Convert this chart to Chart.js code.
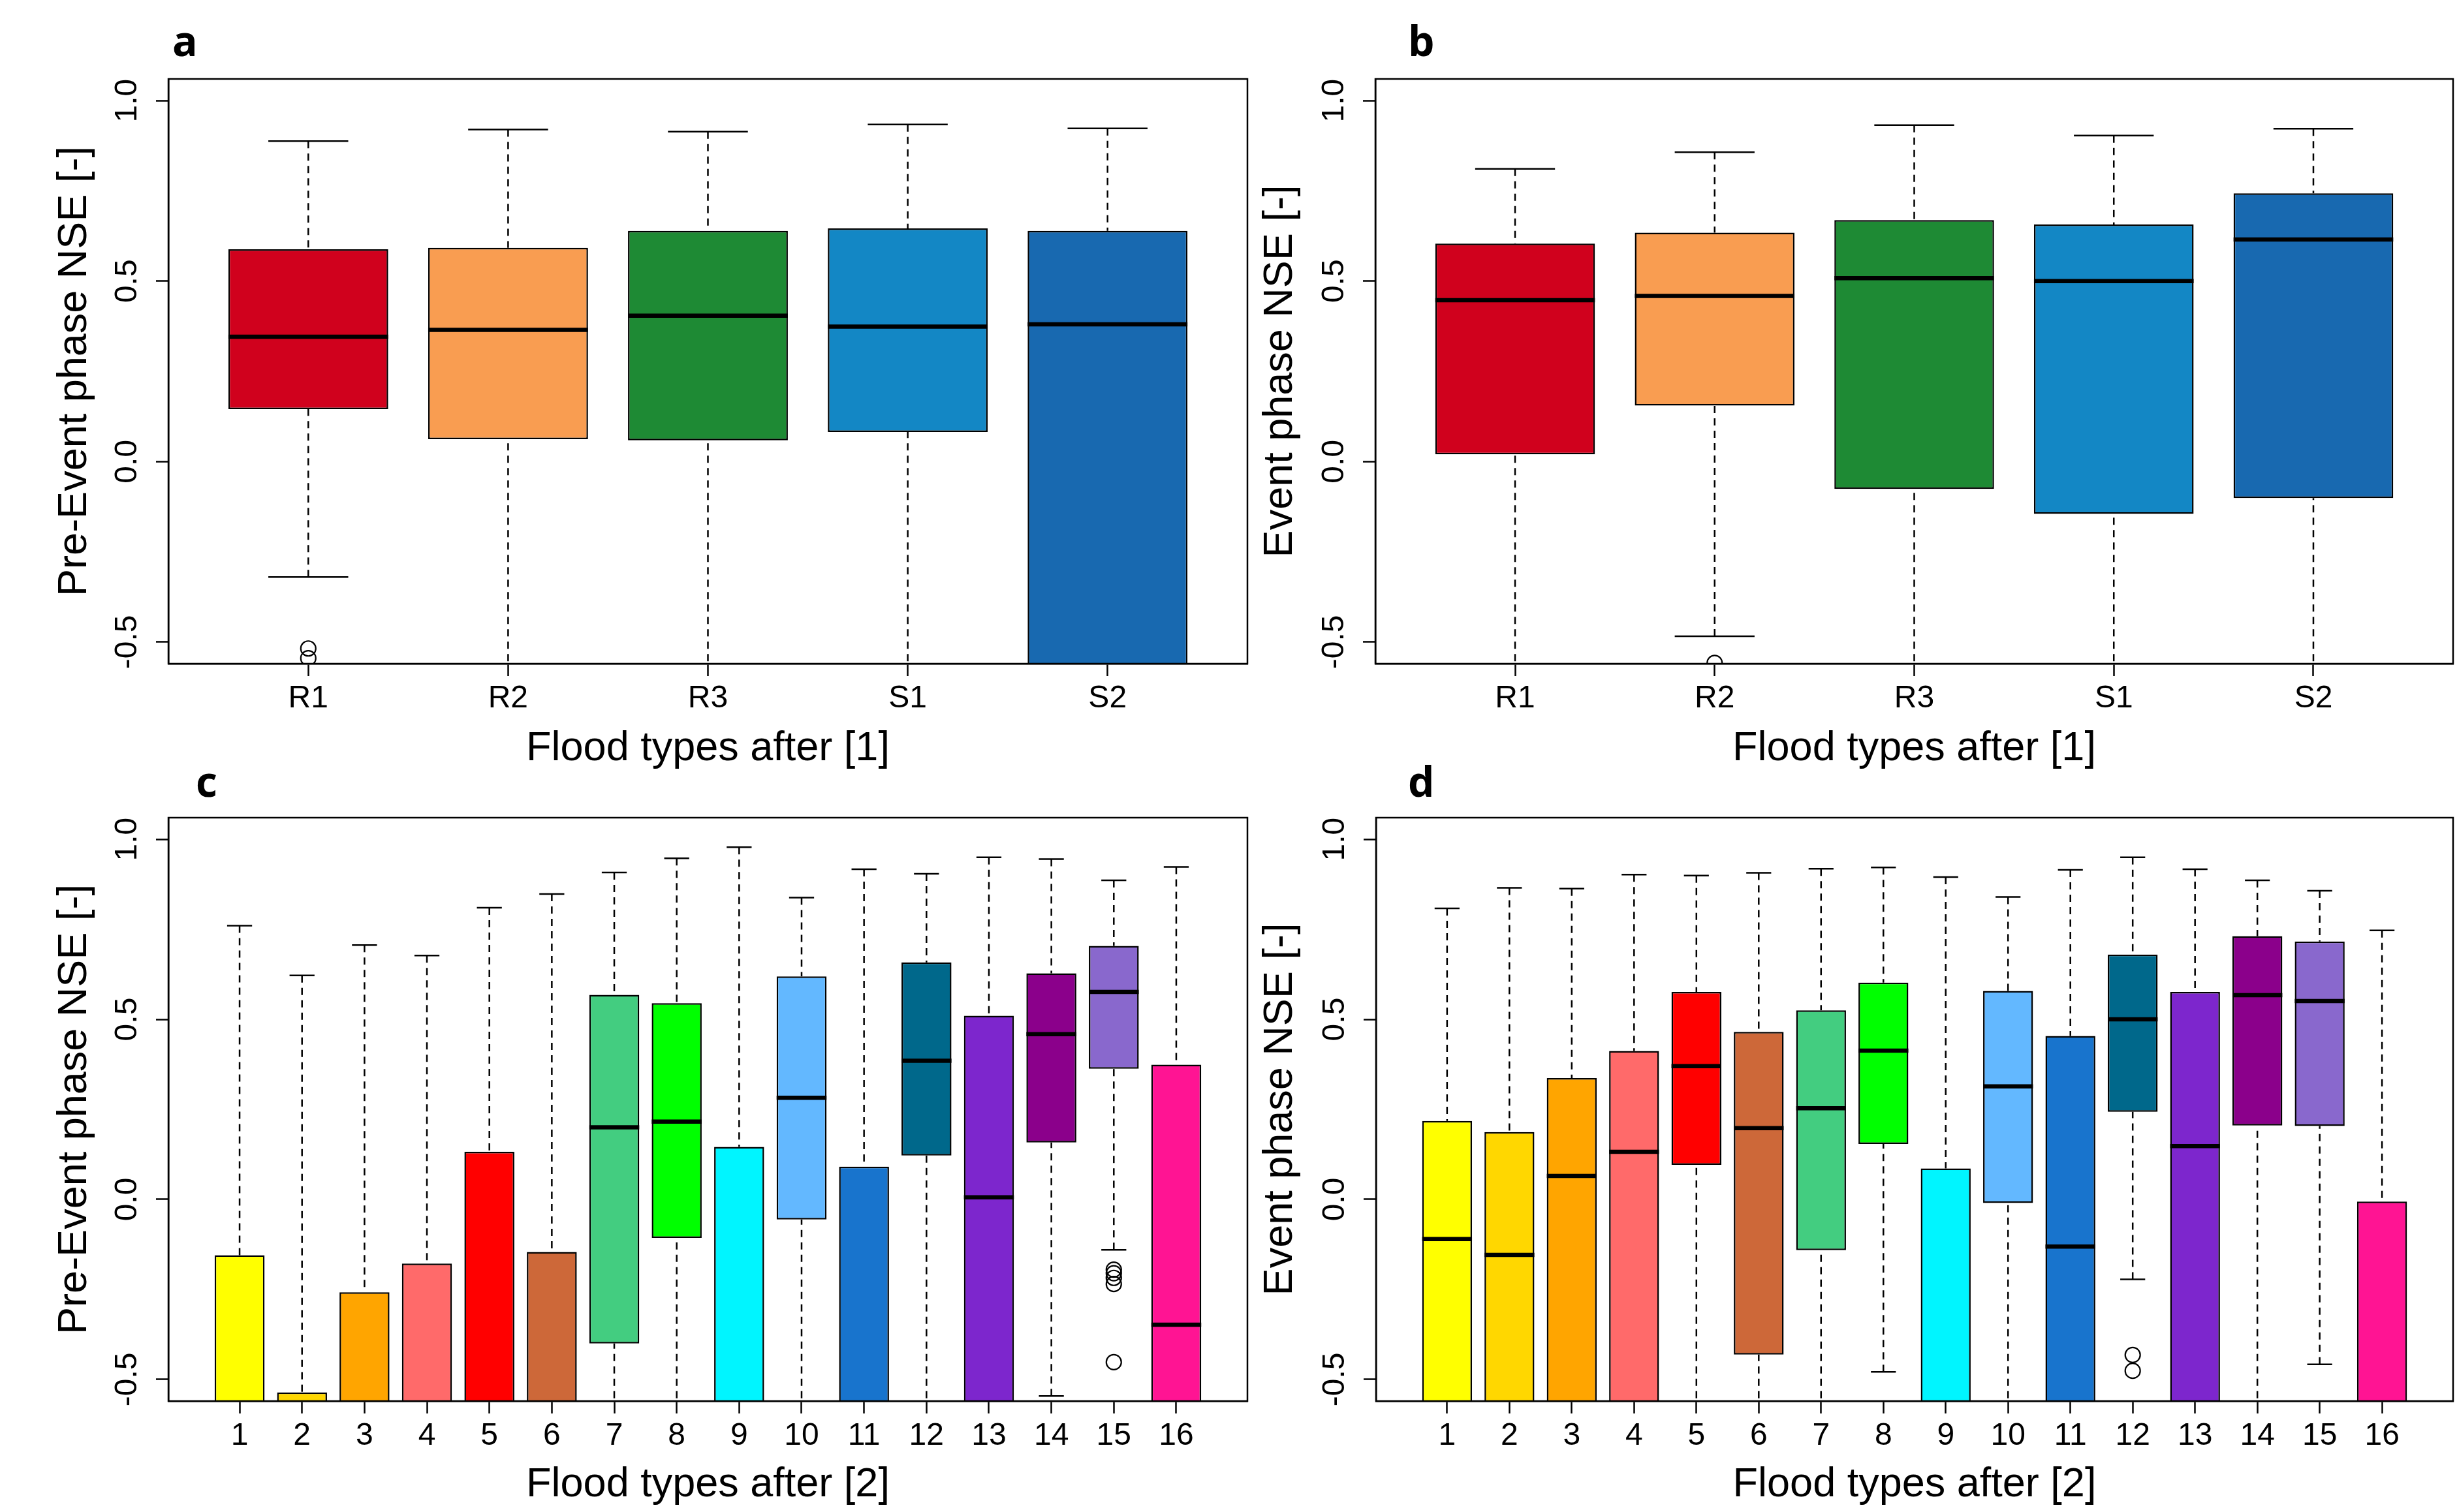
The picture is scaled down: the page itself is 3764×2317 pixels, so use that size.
<!DOCTYPE html>
<html>
<head>
<meta charset="utf-8">
<title>NSE by flood type</title>
<script src="https://cdn.jsdelivr.net/npm/chart.js@4.4.1/dist/chart.umd.min.js"></script>
<style>
  html, body { margin: 0; padding: 0; background: #fff; }
  body { position: relative; width: 3764px; height: 2317px; overflow: hidden; }
  canvas { position: absolute; }
  .tag { position: absolute; font: 700 64px/64px 'Open Sans', sans-serif; color: #000; }
</style>
</head>
<body>
<div class="tag" style="left:264px; top:30px">a</div>
<div class="tag" style="left:2157px; top:30px">b</div>
<div class="tag" style="left:300px; top:1165px">c</div>
<div class="tag" style="left:2157px; top:1165px">d</div>
<canvas id="chartA" width="1930" height="1190" style="left:0; top:0"></canvas>
<canvas id="chartB" width="1884" height="1190" style="left:1880px; top:0"></canvas>
<canvas id="chartC" width="1930" height="1127" style="left:0; top:1190px"></canvas>
<canvas id="chartD" width="1884" height="1127" style="left:1880px; top:1190px"></canvas>
<script>
// flood types
const typesOne = ['R1', 'R2', 'R3', 'S1', 'S2'];
const typesTwo = ['1', '2', '3', '4', '5', '6', '7', '8', '9', '10', '11', '12', '13', '14', '15', '16'];
const yTicks = [-0.5, 0, 0.5, 1.0];
const yMin = -0.56;
const yMax = 1.06;

const colorsOne = ['#D0011D', '#F99D51', '#1E8A34', '#1387C5', '#1869B0'];
const colorsTwo = ['#FFFF00', '#FFD700', '#FFA500', '#FF6A6A', '#FF0000', '#CD6839', '#43CD80', '#00FF00',
                   '#00F5FF', '#63B8FF', '#1874CD', '#00688B', '#7D26CD', '#8B008B', '#8968CD', '#FF1493'];

// -1 = value lies below the plotted range (cut off at the bottom of the panel)

// a: pre-event phase, types after [1]
const aLow  = [-0.320, -1, -1, -1, -1];
const aQ1   = [0.145, 0.062, 0.059, 0.082, -1];
const aMed  = [0.346, 0.365, 0.404, 0.374, 0.380];
const aQ3   = [0.588, 0.592, 0.639, 0.646, 0.639];
const aHigh = [0.888, 0.920, 0.914, 0.934, 0.923];
const aOut  = [[-0.518, -0.545], [], [], [], []];

// b: event phase, types after [1]
const bLow  = [-1, -0.484, -1, -1, -1];
const bQ1   = [0.020, 0.155, -0.076, -0.145, -0.101];
const bMed  = [0.447, 0.459, 0.508, 0.500, 0.615];
const bQ3   = [0.604, 0.634, 0.669, 0.657, 0.743];
const bHigh = [0.811, 0.857, 0.932, 0.903, 0.922];
const bOut  = [[], [-0.558], [], [], []];

// c: pre-event phase, types after [2]
const cLow  = [-1, -1, -1, -1, -1, -1, -1, -1, -1, -1, -1, -1, -1, -0.546, -0.140, -1];
const cQ1   = [-1, -1, -1, -1, -1, -1, -0.400, -0.107, -1, -0.056, -1, 0.122, -1, 0.158, 0.363, -1];
const cMed  = [-1, -1, -1, -1, -1, -1, 0.200, 0.216, -1, 0.282, -1, 0.385, 0.006, 0.459, 0.576, -0.348];
const cQ3   = [-0.155, -0.536, -0.258, -0.178, 0.132, -0.146, 0.568, 0.545, 0.146, 0.619, 0.091, 0.658, 0.510, 0.628, 0.704, 0.374];
const cHigh = [0.760, 0.622, 0.706, 0.677, 0.810, 0.848, 0.908, 0.947, 0.978, 0.838, 0.917, 0.904, 0.950, 0.945, 0.886, 0.923];
const cOut  = [[], [], [], [], [], [], [], [], [], [], [], [], [], [], [-0.195, -0.205, -0.218, -0.235, -0.452], []];

// d: event phase, types after [2]
const dLow  = [-1, -1, -1, -1, -1, -1, -1, -0.479, -1, -1, -1, -0.222, -1, -1, -0.458, -1];
const dQ1   = [-1, -1, -1, -1, 0.096, -0.431, -0.141, 0.154, -1, -0.010, -1, 0.243, -1, 0.205, 0.204, -1];
const dMed  = [-0.110, -0.154, 0.065, 0.132, 0.370, 0.198, 0.253, 0.413, -1, 0.314, -0.131, 0.500, 0.148, 0.567, 0.551, -1];
const dQ3   = [0.218, 0.187, 0.337, 0.412, 0.576, 0.465, 0.525, 0.602, 0.086, 0.579, 0.454, 0.680, 0.576, 0.731, 0.716, -0.006];
const dHigh = [0.808, 0.865, 0.863, 0.902, 0.899, 0.907, 0.918, 0.922, 0.895, 0.840, 0.915, 0.950, 0.917, 0.886, 0.857, 0.747];
const dOut  = [[], [], [], [], [], [], [], [], [], [], [], [-0.432, -0.476], [], [], [], []];

Chart.defaults.font.family = "'Liberation Sans', Arial, sans-serif";
Chart.defaults.color = '#000';

// whiskers, staples, medians, outliers and the frame, all placed through the chart scales
const boxParts = {
  id: 'boxParts',
  beforeDatasetsDraw(chart) {
    const { ctx, chartArea: a, scales: { x, y } } = chart;
    const st = chart.data.datasets[0].stats;
    const staple = (x.getPixelForValue(2) - x.getPixelForValue(1)) * 0.2;
    ctx.save();
    ctx.beginPath();
    ctx.rect(a.left, a.top, a.width, a.height);
    ctx.clip();
    ctx.strokeStyle = '#000';
    ctx.lineWidth = 2.5;
    st.high.forEach((hi, i) => {
      const px = x.getPixelForValue(i + 1);
      [[hi, st.q3[i]], [st.low[i], st.q1[i]]].forEach(([end, edge]) => {
        const ye = y.getPixelForValue(end);
        ctx.setLineDash([11, 8]);
        ctx.beginPath();
        ctx.moveTo(px, ye);
        ctx.lineTo(px, y.getPixelForValue(edge));
        ctx.stroke();
        ctx.setLineDash([]);
        ctx.beginPath();
        ctx.moveTo(px - staple, ye);
        ctx.lineTo(px + staple, ye);
        ctx.stroke();
      });
    });
    ctx.restore();
  },
  afterDatasetsDraw(chart) {
    const { ctx, chartArea: a, scales: { x, y } } = chart;
    const st = chart.data.datasets[0].stats;
    const half = (x.getPixelForValue(2) - x.getPixelForValue(1)) * 0.4;
    ctx.save();
    ctx.beginPath();
    ctx.rect(a.left, a.top, a.width, a.height);
    ctx.clip();
    ctx.strokeStyle = '#000';
    st.med.forEach((m, i) => {
      const px = x.getPixelForValue(i + 1);
      const py = y.getPixelForValue(m);
      ctx.lineWidth = 6.5;
      ctx.beginPath();
      ctx.moveTo(px - half, py);
      ctx.lineTo(px + half, py);
      ctx.stroke();
      ctx.lineWidth = 2.2;
      st.out[i].forEach(v => {
        ctx.beginPath();
        ctx.arc(px, y.getPixelForValue(v), 11.5, 0, Math.PI * 2);
        ctx.stroke();
      });
    });
    ctx.restore();
  },
  afterDraw(chart) {
    const { ctx, chartArea: a } = chart;
    ctx.save();
    ctx.strokeStyle = '#000';
    ctx.lineWidth = 2.5;
    ctx.strokeRect(a.left, a.top, a.width, a.height);
    ctx.restore();
  }
};

function makePanel(canvasId, cats, colors, st, xTitle, yTitle, box) {
  const n = cats.length;
  const pad = n * 0.04; // R widens the axis range by 4%
  return new Chart(document.getElementById(canvasId), {
    type: 'bar',
    data: {
      datasets: [{
        data: cats.map((c, i) => ({ x: i + 1, y: [st.q1[i], st.q3[i]] })),
        backgroundColor: colors,
        borderColor: '#000',
        borderWidth: 2.5,
        borderSkipped: false,
        barPercentage: 0.8,
        categoryPercentage: 1,
        clip: 0,
        stats: st
      }]
    },
    options: {
      responsive: false,
      animation: false,
      layout: { padding: { left: 0, top: box.top, right: box.right, bottom: 0 } },
      plugins: { legend: { display: false }, tooltip: { enabled: false } },
      scales: {
        x: {
          type: 'linear',
          offset: false,
          min: 0.5 - pad,
          max: n + 0.5 + pad,
          afterBuildTicks: s => { s.ticks = cats.map((c, i) => ({ value: i + 1 })); },
          afterFit: s => { s.height = box.xh; },
          ticks: {
            callback: v => cats[v - 1],
            autoSkip: false,
            maxRotation: 0,
            padding: 11,
            font: { size: 48, lineHeight: 1 }
          },
          grid: { display: true, offset: false, drawOnChartArea: false, tickLength: 19, tickWidth: 2.5, tickColor: '#000' },
          border: { display: true, color: '#000', width: 2.5 },
          title: { display: true, text: xTitle, font: { size: 63, lineHeight: 1 }, padding: { top: 0, bottom: box.xtp } }
        },
        y: {
          min: yMin,
          max: yMax,
          afterBuildTicks: s => { s.ticks = yTicks.map(v => ({ value: v })); },
          afterFit: s => { s.width = box.yw; },
          ticks: {
            callback: v => v.toFixed(1),
            autoSkip: false,
            minRotation: 90,
            maxRotation: 90,
            crossAlign: 'center',
            padding: 2,
            font: { size: 48, lineHeight: 1 }
          },
          grid: { display: true, drawOnChartArea: false, tickLength: 19, tickWidth: 2.5, tickColor: '#000' },
          border: { display: true, color: '#000', width: 2.5 },
          title: { display: true, text: yTitle, font: { size: 63, lineHeight: 1 }, padding: { top: box.ytp, bottom: 0 } }
        }
      }
    },
    plugins: [boxParts]
  });
}

makePanel('chartA', typesOne, colorsOne,
  { low: aLow, q1: aQ1, med: aMed, q3: aQ3, high: aHigh, out: aOut },
  'Flood types after [1]', 'Pre-Event phase NSE [-]',
  { top: 121, right: 19, yw: 258, xh: 173, ytp: 83.5, xtp: 10.5 });

makePanel('chartB', typesOne, colorsOne,
  { low: bLow, q1: bQ1, med: bMed, q3: bQ3, high: bHigh, out: bOut },
  'Flood types after [1]', 'Event phase NSE [-]',
  { top: 121, right: 6, yw: 227, xh: 173, ytp: 50.5, xtp: 10.5 });

makePanel('chartC', typesTwo, colorsTwo,
  { low: cLow, q1: cQ1, med: cMed, q3: cQ3, high: cHigh, out: cOut },
  'Flood types after [2]', 'Pre-Event phase NSE [-]',
  { top: 63, right: 19, yw: 258, xh: 170, ytp: 83.5, xtp: 9.5 });

makePanel('chartD', typesTwo, colorsTwo,
  { low: dLow, q1: dQ1, med: dMed, q3: dQ3, high: dHigh, out: dOut },
  'Flood types after [2]', 'Event phase NSE [-]',
  { top: 63, right: 6, yw: 228, xh: 170, ytp: 50.5, xtp: 9.5 });
</script>
</body>
</html>
